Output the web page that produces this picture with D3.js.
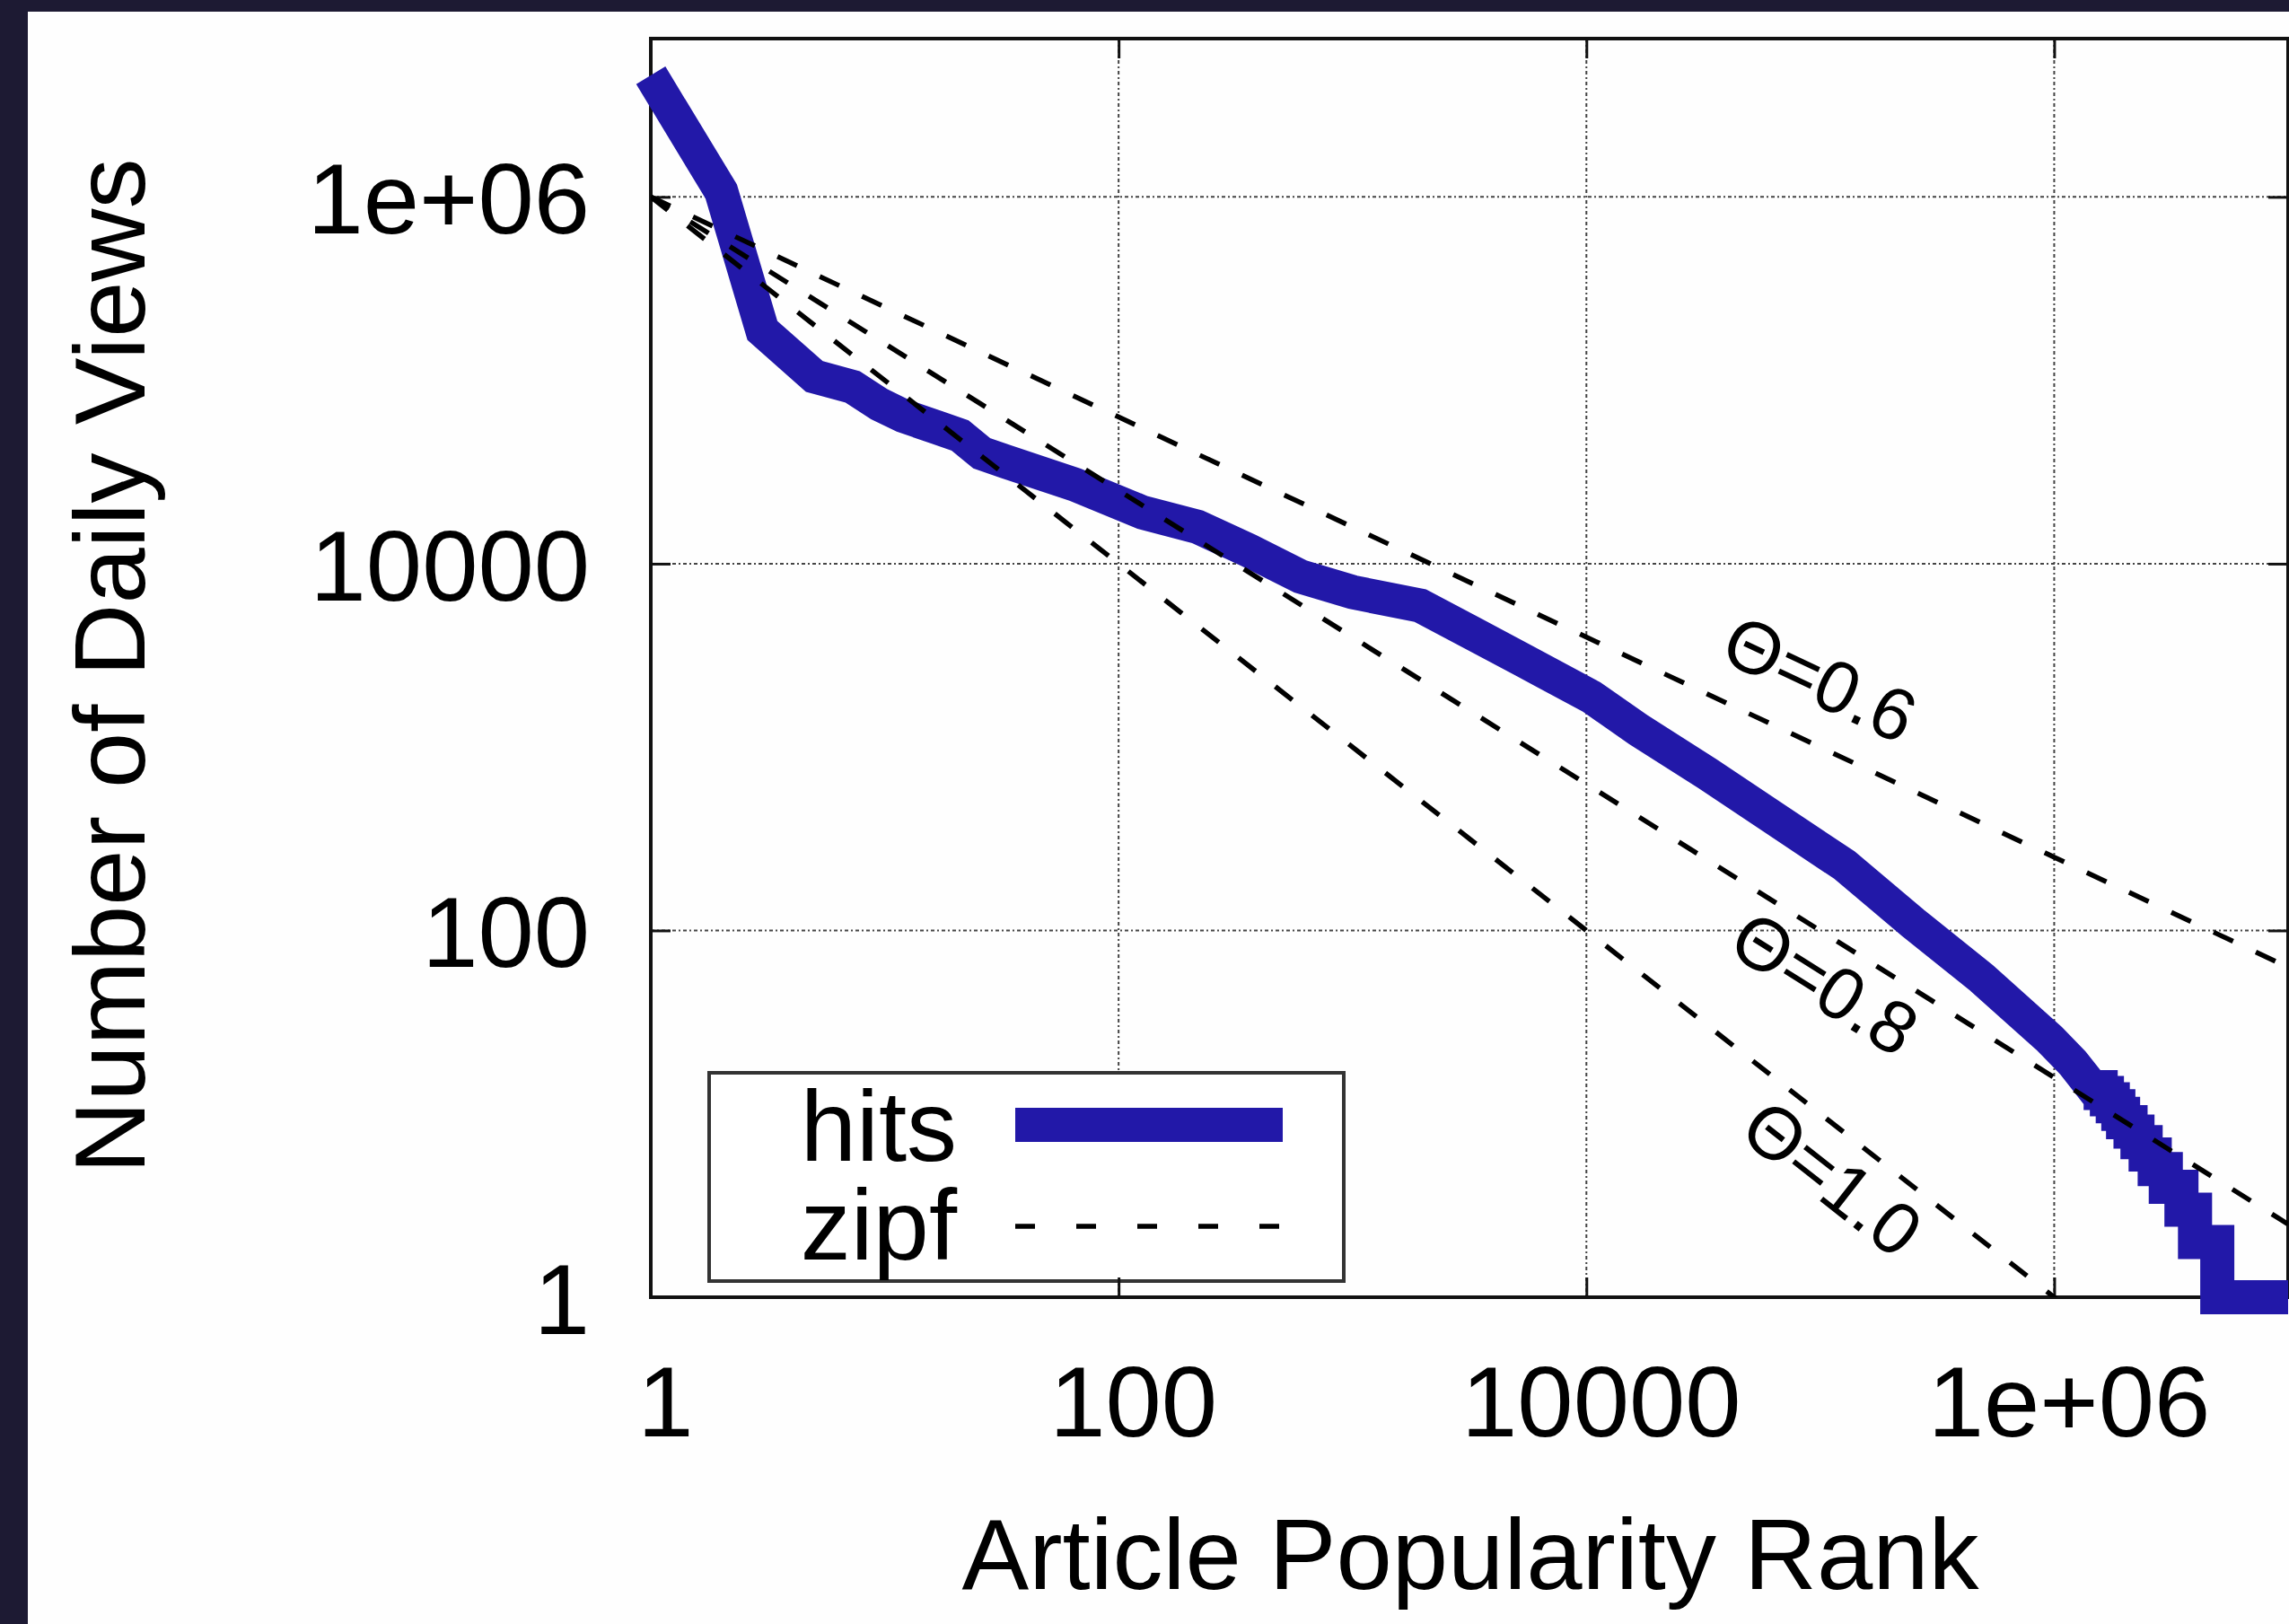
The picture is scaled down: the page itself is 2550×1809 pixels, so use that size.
<!DOCTYPE html>
<html>
<head>
<meta charset="utf-8">
<script src="https://cdn.jsdelivr.net/npm/d3@7"></script>
<style>
  html, body { margin: 0; padding: 0; background: #fefefe; }
  svg { display: block; }
  text { font-family: "Liberation Sans", Arial, sans-serif; fill: #000; }
</style>
</head>
<body>
<svg id="chart" width="2550" height="1809"></svg>
<script>
// article popularity rank -> number of daily views
var hitsRank  = [1, 2, 3, 5, 7.3, 9.5, 12, 17, 21, 26, 33, 65, 127, 217, 360, 600, 1000, 1950, 3230, 5370, 10500, 16750, 32900, 64600, 127000, 249000, 490000, 960000, 1200000, 1450000];
var hitsViews = [4.6e6, 1.07e6, 1.87e5, 1.05e5, 9.2e4, 7.4e4, 6.4e4, 5.5e4, 5.0e4, 4.0e4, 3.6e4, 2.7e4, 1.9e4, 1.59e4, 1.18e4, 8500, 7000, 5900, 4200, 2970, 1880, 1240, 716, 403, 227, 110, 55, 25.5, 19, 14];

// integer tail of the curve: view count and the rank where it ends
var tailViews = [14, 13, 12, 11, 10, 9, 8, 7, 6, 5, 4, 3, 2, 1];
var tailEnd   = [1.58e6, 1.68e6, 1.78e6, 1.88e6, 1.97e6, 2.12e6, 2.27e6, 2.46e6, 2.69e6, 3.0e6, 3.5e6, 4.0e6, 4.98e6, 1e7];

// zipf reference lines, end points
var zipfTheta = [0.6, 0.8, 1.0];
var zipfRank  = [1, 1e7];
var zipfViews = [[1e6, 63], [1e6, 2.5], [1e6, 0.1]];

var xTicks = [1, 100, 10000, 1e6];
var xTickLabels = ["1", "100", "10000", "1e+06"];
var yTicks = [1, 100, 10000, 1e6];
var yTickLabels = ["1", "100", "10000", "1e+06"];

function drawChart() {
  var svg = d3.select("#chart"),
      pl = 725, pr = 2549, pt = 43, pb = 1445,
      blue = "#2218a8", ink = "#111", lw = 38;

  var x = d3.scaleLog().domain([1, 1e7]).range([pl, pr]);
  var y = d3.scaleLog().domain([1, 7.3e6]).range([pb, pt]);

  // page + dark border strips
  svg.append("rect").attr("width", 2550).attr("height", 1809).attr("fill", "#fefefe");
  svg.append("rect").attr("width", 2550).attr("height", 13).attr("fill", "#1d1a33");
  svg.append("rect").attr("width", 31).attr("height", 1809).attr("fill", "#1d1a33");

  // grid
  var grid = svg.append("g").attr("stroke", "#444").attr("stroke-width", 2).attr("stroke-dasharray", "4,3,2,3");
  grid.selectAll(".gx").data(xTicks.slice(1)).enter().append("line")
      .attr("x1", d => x(d)).attr("x2", d => x(d)).attr("y1", pt).attr("y2", pb);
  grid.selectAll(".gy").data(yTicks.slice(1)).enter().append("line")
      .attr("x1", pl).attr("x2", pr).attr("y1", d => y(d)).attr("y2", d => y(d));

  // legend
  var key = svg.append("g");
  key.append("rect").attr("x", 790).attr("y", 1195).attr("width", 707).attr("height", 232)
      .attr("fill", "#fff").attr("stroke", "#333").attr("stroke-width", 4);
  key.append("text").attr("x", 1066).attr("y", 1293).attr("text-anchor", "end").attr("font-size", 112).text("hits");
  key.append("text").attr("x", 1066).attr("y", 1403).attr("text-anchor", "end").attr("font-size", 112).text("zipf");
  key.append("line").attr("x1", 1131).attr("x2", 1429).attr("y1", 1253).attr("y2", 1253)
      .attr("stroke", blue).attr("stroke-width", lw);
  key.append("line").attr("x1", 1131).attr("x2", 1429).attr("y1", 1366).attr("y2", 1366)
      .attr("stroke", "#000").attr("stroke-width", 5.5).attr("stroke-dasharray", "22,46");

  // frame and inward ticks on all sides
  svg.append("rect").attr("x", pl).attr("y", pt).attr("width", pr - pl).attr("height", pb - pt)
      .attr("fill", "none").attr("stroke", ink).attr("stroke-width", 4);

  var gx = svg.append("g").attr("transform", "translate(0," + pb + ")")
      .call(d3.axisBottom(x).tickValues(xTicks).tickFormat((d, i) => xTickLabels[i]).tickSizeInner(-22).tickSizeOuter(0));
  var gxt = svg.append("g").attr("transform", "translate(0," + pt + ")")
      .call(d3.axisTop(x).tickValues(xTicks).tickFormat("").tickSizeInner(-22).tickSizeOuter(0));
  var gy = svg.append("g").attr("transform", "translate(" + pl + ",0)")
      .call(d3.axisLeft(y).tickValues(yTicks).tickFormat((d, i) => yTickLabels[i]).tickSizeInner(-22).tickSizeOuter(0));
  var gyr = svg.append("g").attr("transform", "translate(" + pr + ",0)")
      .call(d3.axisRight(y).tickValues(yTicks).tickFormat("").tickSizeInner(-22).tickSizeOuter(0));

  [gx, gxt, gy, gyr].forEach(function(g) {
    g.select(".domain").remove();
    g.selectAll("line").attr("stroke", ink).attr("stroke-width", 3);
    g.selectAll("text").attr("font-size", 112).attr("font-family", null).attr("fill", "#000");
  });
  gx.selectAll("text").attr("y", 155).attr("dy", 0).attr("x", 16);
  gy.selectAll("text").attr("x", -68).attr("dy", "0.36em");

  // hits curve: smooth head, then integer staircase
  var pts = hitsRank.map((r, i) => [r, hitsViews[i]]);
  var from = hitsRank[hitsRank.length - 1];
  tailViews.forEach(function(v, i) {
    pts.push([from, v]);
    pts.push([tailEnd[i], v]);
    from = tailEnd[i];
  });
  var line = d3.line().x(d => x(d[0])).y(d => y(d[1]));
  svg.append("path").datum(pts).attr("d", line)
      .attr("fill", "none").attr("stroke", blue).attr("stroke-width", lw)
      .attr("stroke-linejoin", "miter").attr("stroke-linecap", "butt");

  // zipf lines
  svg.append("clipPath").attr("id", "plot").append("rect")
      .attr("x", pl).attr("y", pt).attr("width", pr - pl).attr("height", pb - pt);
  var zg = svg.append("g").attr("clip-path", "url(#plot)");
  zipfTheta.forEach(function(t, i) {
    zg.append("path").datum(zipfRank.map((r, j) => [r, zipfViews[i][j]])).attr("d", line)
        .attr("fill", "none").attr("stroke", "#000").attr("stroke-width", 5.5).attr("stroke-dasharray", "24,28");
  });

  // theta labels, rotated along their lines
  var labelAt = [[1.0e5, 2380], [1.05e5, 52], [1.13e5, 4.5]];
  zipfTheta.forEach(function(t, i) {
    var v = zipfViews[i], dx = x(zipfRank[1]) - x(zipfRank[0]), dy = y(v[1]) - y(v[0]);
    var ang = Math.atan2(dy, dx) * 180 / Math.PI;
    svg.append("text")
        .attr("transform", "translate(" + x(labelAt[i][0]) + "," + y(labelAt[i][1]) + ") rotate(" + ang + ")")
        .attr("text-anchor", "middle").attr("dy", "0.36em").attr("font-size", 82)
        .text("\u0398=" + t.toFixed(1));
  });

  // axis titles
  svg.append("text").attr("x", 1638).attr("y", 1770).attr("text-anchor", "middle").attr("font-size", 112)
      .text("Article Popularity Rank");
  svg.append("text").attr("transform", "translate(161,742) rotate(-90)").attr("text-anchor", "middle").attr("font-size", 112)
      .text("Number of Daily Views");
}

drawChart();
</script>
</body>
</html>
